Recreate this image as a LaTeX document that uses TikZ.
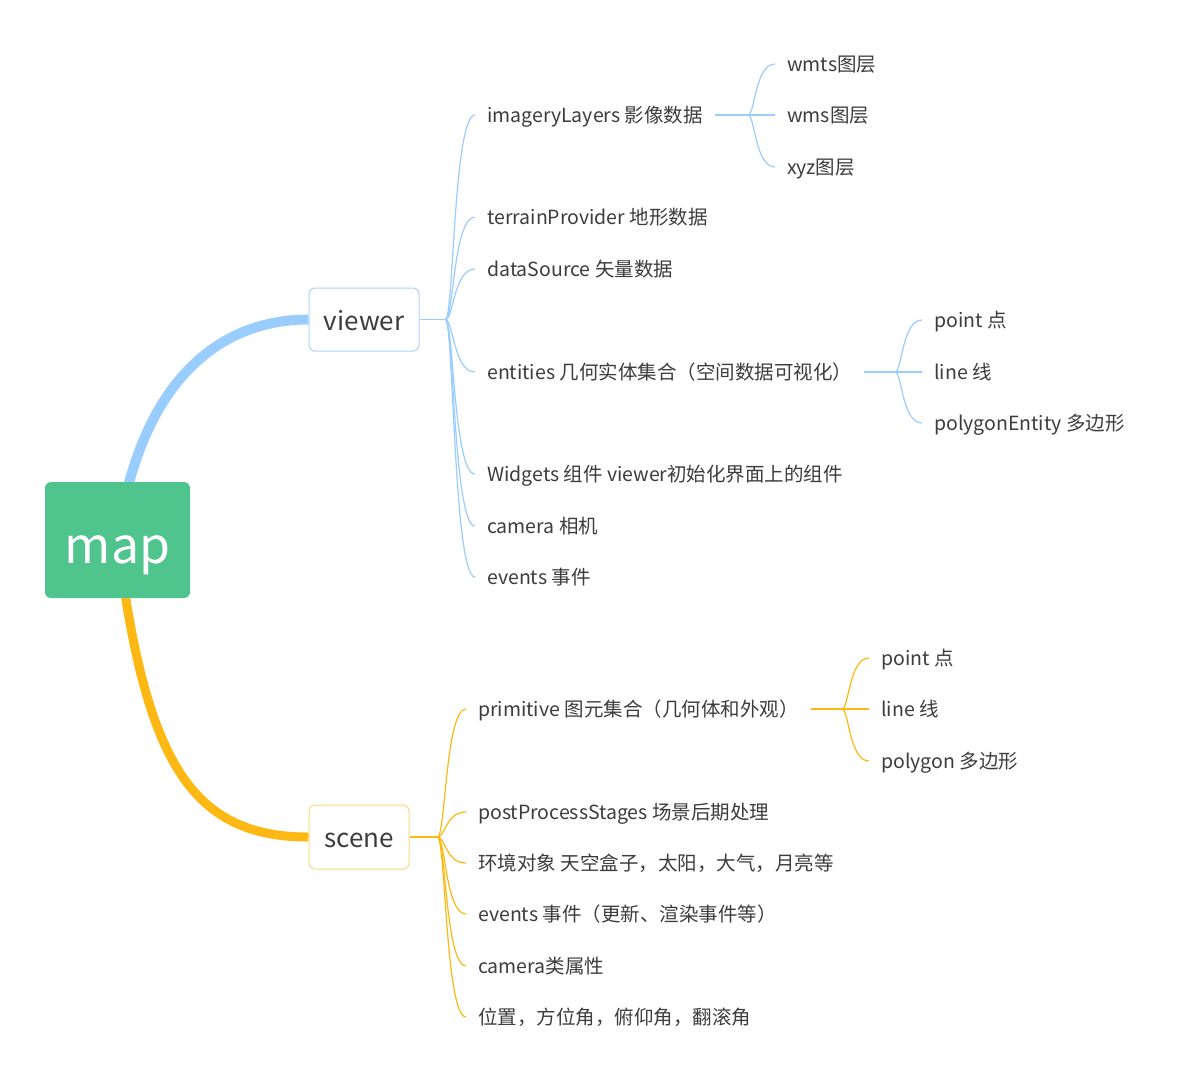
\documentclass[tikz,border=0pt]{standalone}
\usepackage{fontspec}
\setmainfont{Noto Sans CJK SC}
\usepackage{tikz}
\usetikzlibrary{calc,positioning,backgrounds}
\definecolor{mapgreen}{RGB}{80,196,141}
\definecolor{viewblue}{RGB}{153,204,255}
\definecolor{sceneorange}{RGB}{253,184,19}
\definecolor{textgray}{RGB}{60,60,60}
\tikzset{
  topic/.style={anchor=west, inner xsep=12pt, inner ysep=2pt, text height=14pt, text depth=0pt,
    text=textgray, font=\fontsize{19.5}{22}\selectfont},
  vline/.style={draw=viewblue, line width=1.2pt},
  sline/.style={draw=sceneorange, line width=1.2pt},
  mainbox/.style={rounded corners=6pt, fill=white, line width=1pt, text=textgray,
    text height=21pt, text depth=0pt, font=\fontsize{26}{30}\selectfont},
}
\begin{document}
\begin{tikzpicture}[x=1pt, y=-1pt]
\useasboundingbox (0,0) rectangle (1188,1080);
% root and the two main topics
\node[fill=mapgreen, rounded corners=6pt, minimum width=145pt, minimum height=116pt,
  text height=46pt, text depth=0pt, text=white, font=\fontsize{50}{60}\selectfont] (map) at (117.5,540) {map};
\node[mainbox, draw=viewblue!85, minimum width=110pt, minimum height=63pt] (viewer) at (364,319.5) {viewer};
\node[mainbox, draw=sceneorange!55, minimum width=100pt, minimum height=64pt] (scene) at (359,837) {scene};
\begin{scope}[on background layer]
\draw[viewblue, line width=10pt] (map.center) .. controls (140,380) and (220,319.5) .. (viewer.west);
\draw[sceneorange, line width=9pt] (map.center) .. controls (145,760) and (190,837) .. (scene.west);
\end{scope}

% viewer branch
\coordinate (vj) at ($(viewer.east)+(26,0)$);
\draw[vline] (viewer.east) -- (vj);
\foreach \nm/\yy/\txt in {img/115/imageryLayers 影像数据, ter/217/terrainProvider 地形数据,
    dat/269/dataSource 矢量数据, ent/372/entities 几何实体集合（空间数据可视化）,
    wid/474/Widgets 组件 viewer初始化界面上的组件, cam/526/camera 相机, evt/577/events 事件}{
  \node[topic] (\nm) at (475,\yy) {\txt};
  \draw[vline] (vj) .. controls ($(vj)+(8,0)$) and ($(vj |- \nm.west)+(8,0)$) .. (\nm.west);
}
\coordinate (imgj) at (748,115);
\draw[vline] (img.east) -- (imgj);
\foreach \nm/\yy/\txt in {wmts/64/wmts图层, wms/115/wms图层, xyz/167/xyz图层}{
  \node[topic] (\nm) at (775,\yy) {\txt};
  \draw[vline] (imgj) .. controls ($(imgj)+(7,0)$) and ($(imgj |- \nm.west)+(7,0)$) .. (\nm.west);
}
\coordinate (entj) at (895,372);
\draw[vline] (ent.east) -- (entj);
\foreach \nm/\yy/\txt in {vpt/320/point 点, vln/372/line 线, vpg/423/polygonEntity 多边形}{
  \node[topic] (\nm) at (922,\yy) {\txt};
  \draw[vline] (entj) .. controls ($(entj)+(7,0)$) and ($(entj |- \nm.west)+(7,0)$) .. (\nm.west);
}

% scene branch
\coordinate (sj) at ($(scene.east)+(28,0)$);
\draw[sline] (scene.east) -- (sj);
\foreach \nm/\yy/\txt in {prim/709/primitive 图元集合（几何体和外观）, post/812/postProcessStages 场景后期处理,
    env/863/环境对象 天空盒子，太阳，大气，月亮等, sev/914/events 事件（更新、渲染事件等）,
    scam/966/camera类属性, pos/1017/位置，方位角，俯仰角，翻滚角}{
  \node[topic] (\nm) at (466,\yy) {\txt};
  \draw[sline] (sj) .. controls ($(sj)+(8,0)$) and ($(sj |- \nm.west)+(8,0)$) .. (\nm.west);
}
\coordinate (primj) at (842,709);
\draw[sline] (prim.east) -- (primj);
\foreach \nm/\yy/\txt in {spt/658/point 点, sln/709/line 线, spg/761/polygon 多边形}{
  \node[topic] (\nm) at (869,\yy) {\txt};
  \draw[sline] (primj) .. controls ($(primj)+(7,0)$) and ($(primj |- \nm.west)+(7,0)$) .. (\nm.west);
}
\end{tikzpicture}
\end{document}
